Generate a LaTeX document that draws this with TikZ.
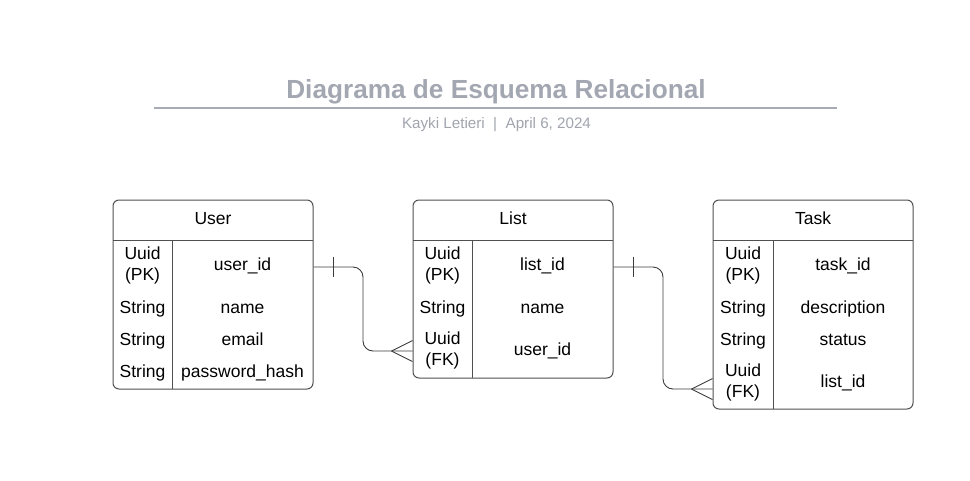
\documentclass[tikz,border=0pt]{standalone}
\usepackage{fontspec}
\setmainfont{Liberation Sans}
\usetikzlibrary{calc}
\definecolor{titlegray}{RGB}{163,167,177}
\definecolor{subgray}{RGB}{160,164,173}
\definecolor{rulegray}{RGB}{168,171,180}
\definecolor{boxline}{RGB}{80,80,80}
\definecolor{connline}{RGB}{60,60,60}
\begin{document}
\begin{tikzpicture}[x=1pt,y=-1pt,
  tbl/.style={draw=boxline, line width=1pt, rounded corners=6pt, fill=white, inner sep=0pt},
  sep/.style={draw=boxline, line width=1pt},
  cell/.style={font=\fontsize{17.5}{21}\selectfont, anchor=base, inner sep=0pt, text=black},
  cell2/.style={font=\fontsize{17.5}{21.5}\selectfont, align=center, inner sep=0pt, text=black},
  hdr/.style={font=\fontsize{17.5}{21}\selectfont, anchor=base, inner sep=0pt, text=black},
  conn/.style={draw=connline, line width=0.9pt, rounded corners=10pt},
  crowmark/.style={draw=connline, line width=0.9pt}
]
\useasboundingbox (0,0) rectangle (970,480);

% title
\node[font=\fontsize{26.2}{30}\selectfont\bfseries, text=titlegray, inner sep=0pt, anchor=base] (title) at (496,98) {Diagrama de Esquema Relacional};
\coordinate (rl) at (154,107.5);
\coordinate (rr) at (837,107.5);
\draw[draw=rulegray, line width=2pt] (rl) -- (rr);
\node[font=\fontsize{15.2}{18}\selectfont, text=subgray, inner sep=0pt, anchor=base] (sub) at (496.5,128.5) {Kayki Letieri \ | \ April 6, 2024};

% ---- User
\node[tbl, minimum width=200pt, minimum height=189pt] (user) at (213,294.5) {};
\draw[sep] (113,240) -- (313,240);
\draw[sep] (172,240) -- (172,389);
\node[hdr] (userh) at (213,224.3) {User};
\node[cell2] (u1a) at (142.5,265.7) {Uuid\\(PK)};
\node[cell] (u1b) at (242.5,270.5) {user\_id};
\node[cell] (u2a) at (142.5,313) {String};
\node[cell] (u2b) at (242.5,313) {name};
\node[cell] (u3a) at (142.5,345) {String};
\node[cell] (u3b) at (242.5,345) {email};
\node[cell] (u4a) at (142.5,377) {String};
\node[cell] (u4b) at (242.5,377) {password\_hash};

% ---- List
\node[tbl, minimum width=200pt, minimum height=178pt] (list) at (513,289) {};
\draw[sep] (413,240) -- (613,240);
\draw[sep] (472,240) -- (472,378);
\node[hdr] (listh) at (513,224.3) {List};
\node[cell2] (l1a) at (442.5,265.7) {Uuid\\(PK)};
\node[cell] (l1b) at (542.5,270.5) {list\_id};
\node[cell] (l2a) at (442.5,313) {String};
\node[cell] (l2b) at (542.5,313) {name};
\node[cell2] (l3a) at (442.5,350.7) {Uuid\\(FK)};
\node[cell] (l3b) at (542.5,355.3) {user\_id};

% ---- Task
\node[tbl, minimum width=200pt, minimum height=209pt] (task) at (813,304.5) {};
\draw[sep] (713,240) -- (913,240);
\draw[sep] (773,240) -- (773,409);
\node[hdr] (taskh) at (813,224.3) {Task};
\node[cell2] (t1a) at (743,265.7) {Uuid\\(PK)};
\node[cell] (t1b) at (843,270.5) {task\_id};
\node[cell] (t2a) at (743,313) {String};
\node[cell] (t2b) at (843,313) {description};
\node[cell] (t3a) at (743,345) {String};
\node[cell] (t3b) at (843,345) {status};
\node[cell2] (t4a) at (743,382.7) {Uuid\\(FK)};
\node[cell] (t4b) at (843,387.3) {list\_id};

% ---- connector User -> List
\coordinate (c1s) at (user.east |- 0,267);
\coordinate (c1e) at (list.west |- 0,351);
\draw[conn] (c1s) -| ($(c1s)!0.5!(c1e)$) |- (c1e);
\draw[crowmark] ($(c1s)+(20,-10)$) -- ($(c1s)+(20,10)$);
\draw[crowmark] ($(c1e)+(-21,0)$) -- ($(c1e)+(0,-10.5)$);
\draw[crowmark] ($(c1e)+(-21,0)$) -- ($(c1e)+(0,10.5)$);

% ---- connector List -> Task
\coordinate (c2s) at (list.east |- 0,267);
\coordinate (c2e) at (task.west |- 0,389);
\draw[conn] (c2s) -| ($(c2s)!0.5!(c2e)$) |- (c2e);
\draw[crowmark] ($(c2s)+(20,-10)$) -- ($(c2s)+(20,10)$);
\draw[crowmark] ($(c2e)+(-21,0)$) -- ($(c2e)+(0,-10.5)$);
\draw[crowmark] ($(c2e)+(-21,0)$) -- ($(c2e)+(0,10.5)$);
\end{tikzpicture}
\end{document}
